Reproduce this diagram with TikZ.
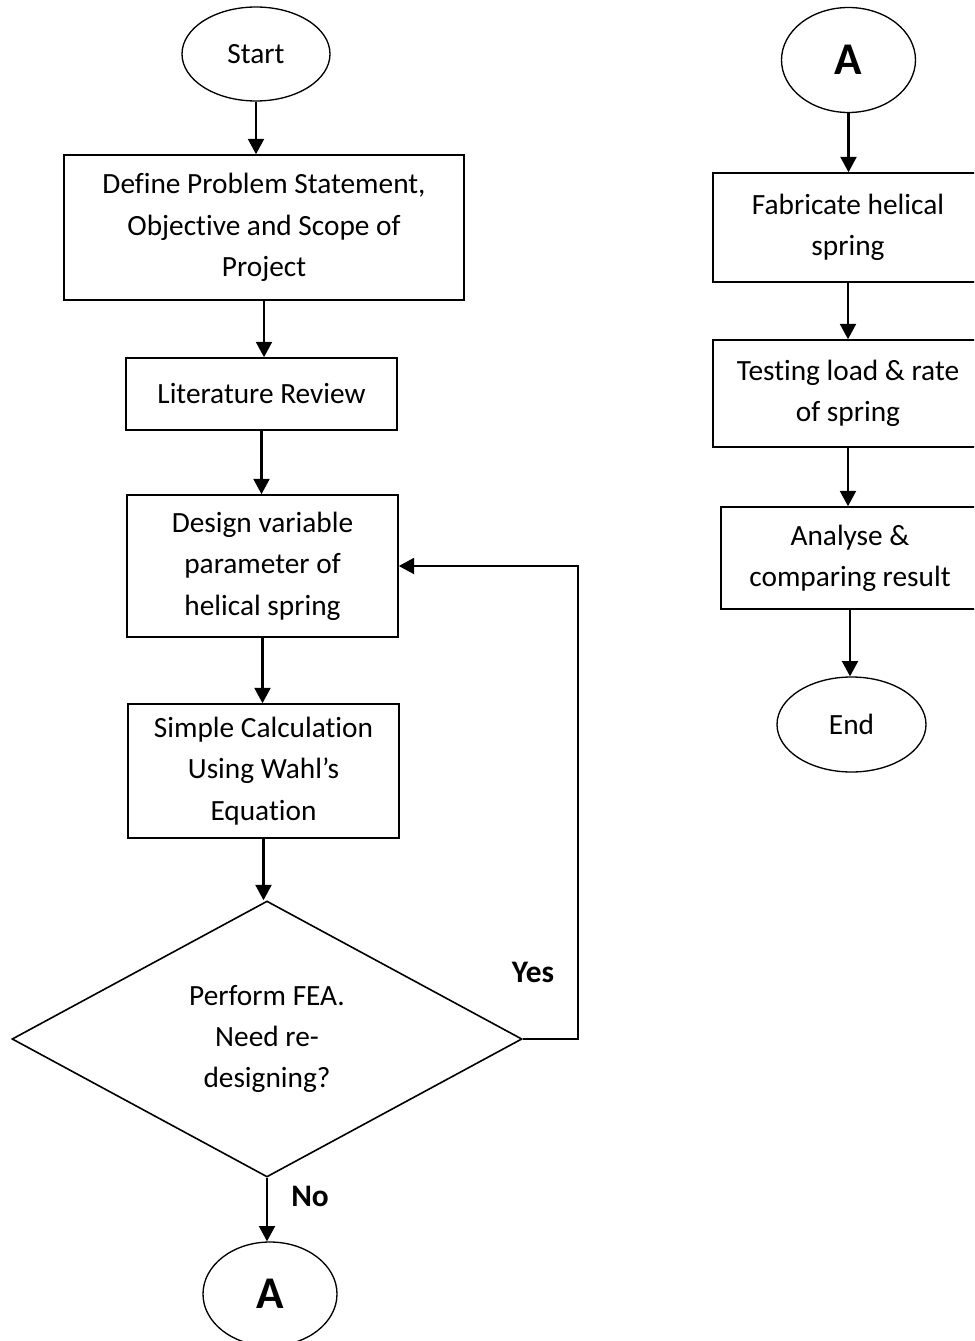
\documentclass[tikz,border=0pt]{standalone}
\usepackage{fontspec}
\setmainfont[Ligatures=NoCommon]{Carlito}
\usetikzlibrary{shapes.geometric,arrows.meta}

\begin{document}
\begin{tikzpicture}[x=0.75pt,y=-0.75pt,
                    every node/.style={font=\fontsize{22}{31}\selectfont, align=center},
                    box/.style={draw, rectangle, line width=1.2pt, inner sep=0pt},
                    oval/.style={draw, ellipse, line width=1pt, inner sep=0pt},
                    conn/.style={font=\fontsize{34}{40}\selectfont\bfseries},
                    lbl/.style={font=\fontsize{23.5}{31}\selectfont\bfseries},
                    arr/.style={line width=1.6pt, -{Triangle[length=11.5pt,width=12pt]}}]
                    \clip (0,0) rectangle (974,1341);

                    % left column
                    \node[oval, minimum width=111pt, minimum height=70.5pt] (start) at (256,54) {Start};
                    \node[box, minimum width=300pt, minimum height=108.75pt] (define) at (264,227.5) {Define Problem Statement,\\Objective and Scope of\\Project};
                    \node[box, minimum width=203.25pt, minimum height=54pt] (review) at (261.5,394) {Literature Review};
                    \node[box, minimum width=203.25pt, minimum height=106.5pt] (design) at (262.5,566) {Design variable\\parameter of\\helical spring};
                    \node[box, minimum width=203.25pt, minimum height=100.5pt] (calc) at (263.5,771) {Simple Calculation\\Using Wahl’s\\Equation};
                    \node[draw, diamond, aspect=1.85, line width=1.2pt, inner sep=0pt, minimum width=382.5pt, minimum height=207pt] (fea) at (267,1039) {Perform FEA.\\Need re-\\designing?};
                    \node[oval, conn, minimum width=100.5pt, minimum height=78pt] (linkA) at (270,1294) {A};

                    % right column
                    \node[oval, conn, minimum width=100.5pt, minimum height=78.75pt] (contA) at (848.5,60) {A};
                    \node[box, minimum width=202.5pt, minimum height=81.75pt] (fabricate) at (848,227.5) {Fabricate helical\\spring};
                    \node[box, minimum width=202.5pt, minimum height=80.25pt] (testing) at (848,393.5) {Testing load \& rate\\of spring};
                    \node[box, minimum width=193.5pt, minimum height=76.5pt] (analyse) at (850,558) {Analyse \&\\comparing result};
                    \node[oval, minimum width=111.75pt, minimum height=71.25pt] (finish) at (851.5,724.5) {End};

                    \foreach \a/\b in {start/define, define/review, review/design, design/calc, calc/fea, fea/linkA,
                                       contA/fabricate, fabricate/testing, testing/analyse, analyse/finish}
                        \draw[arr] (\a.south) -- (\a.south |- \b.north);

                    % redesign loop
                    \coordinate (loop) at (578,566);
                    \draw[arr] (fea.east) -| (loop) -- (design.east);
                    \node[lbl] (yes) at (533,972) {Yes};
                    \node[lbl] (no) at (310,1196) {No};

                \end{tikzpicture}
\end{document}
